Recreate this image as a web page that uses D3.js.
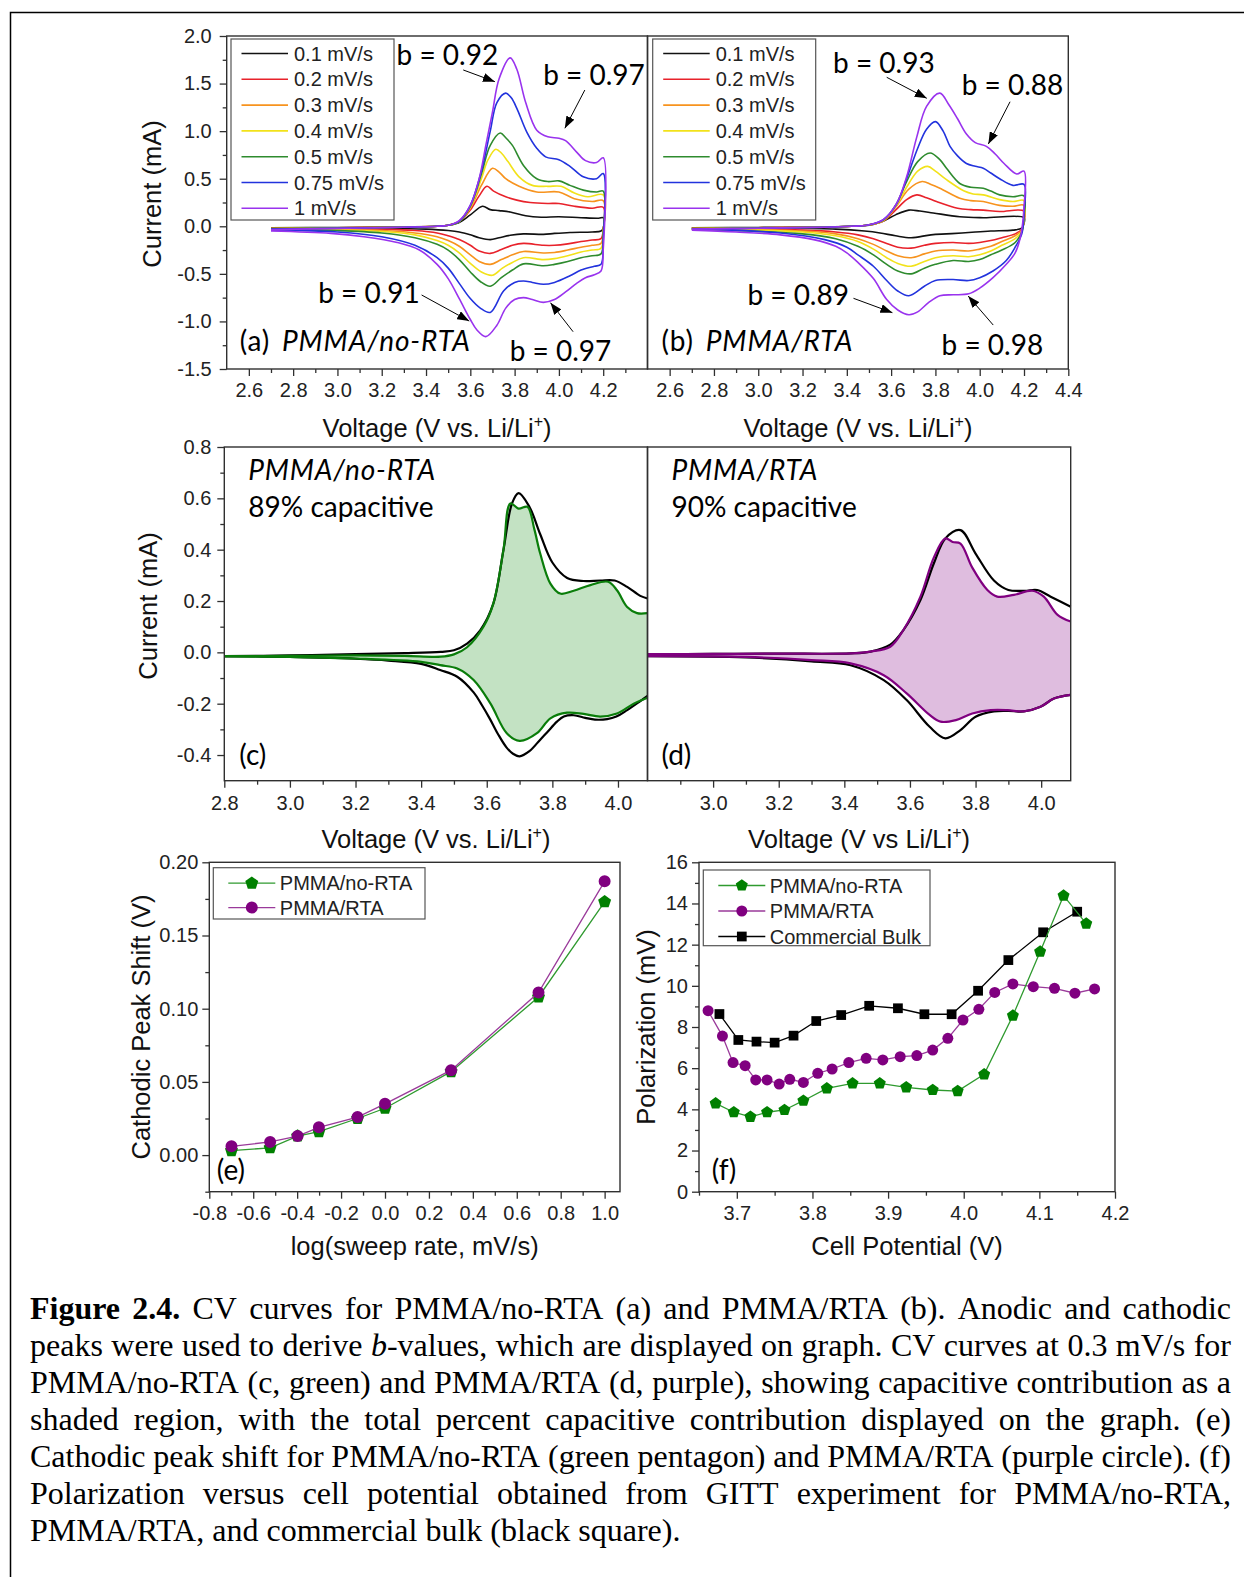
<!DOCTYPE html>
<html><head><meta charset="utf-8">
<script src="https://cdn.jsdelivr.net/npm/d3@7"></script>
<style>
html,body{margin:0;padding:0;background:#fff;}
svg{display:block;}
</style></head><body>
<script>
// ---------------- DATA ----------------
const scanRates = ["0.1 mV/s","0.2 mV/s","0.3 mV/s","0.4 mV/s","0.5 mV/s","0.75 mV/s","1 mV/s"];
const rateColors = ["#111111","#e8222b","#f7931e","#f2e21a","#2e8b2e","#2233dd","#9933ee"];

// Panel (a) PMMA/no-RTA : anodic sweep (V, mA)
const anA_01 = [[2.7,-0.015],[3.0,-0.012],[3.3,-0.006],[3.45,0.0],[3.5,0.01],[3.55,0.04],[3.6,0.12],[3.655,0.21],[3.69,0.175],[3.73,0.165],[3.78,0.15],[3.85,0.11],[3.92,0.095],[4.0,0.10],[4.1,0.09],[4.18,0.085],[4.2,0.09]];
const anA_02 = [[2.7,-0.02],[3.0,-0.015],[3.3,-0.008],[3.45,0.0],[3.5,0.01],[3.55,0.05],[3.6,0.17],[3.64,0.32],[3.675,0.42],[3.705,0.37],[3.76,0.31],[3.81,0.275],[3.87,0.25],[3.95,0.24],[4.0,0.24],[4.07,0.21],[4.15,0.19],[4.2,0.2]];
const anA_03 = [[2.7,-0.02],[3.0,-0.015],[3.3,-0.008],[3.45,0.0],[3.5,0.01],[3.55,0.05],[3.6,0.19],[3.65,0.43],[3.70,0.61],[3.73,0.57],[3.76,0.50],[3.82,0.42],[3.9,0.36],[4.0,0.36],[4.07,0.29],[4.15,0.26],[4.2,0.27]];
const anA_04 = [[2.7,-0.025],[3.0,-0.018],[3.3,-0.01],[3.45,0.0],[3.5,0.01],[3.55,0.05],[3.6,0.2],[3.65,0.5],[3.68,0.7],[3.715,0.81],[3.74,0.77],[3.77,0.68],[3.82,0.52],[3.88,0.43],[3.95,0.42],[4.01,0.42],[4.07,0.35],[4.13,0.31],[4.2,0.33]];
const anA_05 = [[2.7,-0.025],[3.0,-0.018],[3.3,-0.01],[3.45,0.0],[3.5,0.01],[3.55,0.05],[3.6,0.21],[3.65,0.55],[3.69,0.85],[3.735,0.98],[3.76,0.93],[3.79,0.85],[3.84,0.64],[3.9,0.50],[3.95,0.47],[4.0,0.477],[4.05,0.43],[4.11,0.38],[4.17,0.36],[4.2,0.37]];
const anA_075 = [[2.7,-0.03],[3.0,-0.02],[3.3,-0.01],[3.45,0.0],[3.5,0.01],[3.55,0.055],[3.6,0.22],[3.65,0.58],[3.69,1.0],[3.72,1.3],[3.76,1.40],[3.785,1.35],[3.81,1.24],[3.855,0.99],[3.9,0.82],[3.94,0.73],[4.0,0.70],[4.05,0.63],[4.11,0.52],[4.17,0.50],[4.2,0.555]];
const anA_1 = [[2.7,-0.035],[3.0,-0.022],[3.3,-0.01],[3.45,0.0],[3.5,0.01],[3.55,0.06],[3.6,0.22],[3.64,0.5],[3.67,0.85],[3.7,1.2],[3.73,1.55],[3.78,1.77],[3.81,1.65],[3.85,1.3],[3.9,1.01],[3.95,0.94],[4.0,0.925],[4.03,0.9],[4.08,0.78],[4.12,0.69],[4.17,0.67],[4.2,0.72]];
// Panel (a) cathodic sweep
const caA_01 = [[4.2,-0.02],[4.19,-0.05],[4.15,-0.06],[4.05,-0.065],[3.98,-0.075],[3.93,-0.085],[3.84,-0.08],[3.78,-0.095],[3.73,-0.12],[3.69,-0.14],[3.64,-0.12],[3.6,-0.09],[3.55,-0.06],[3.5,-0.045],[3.4,-0.03],[3.2,-0.02],[2.7,-0.015]];
const caA_02 = [[4.2,-0.04],[4.19,-0.13],[4.15,-0.145],[4.1,-0.16],[4.04,-0.185],[3.98,-0.2],[3.93,-0.2],[3.84,-0.18],[3.79,-0.2],[3.74,-0.245],[3.69,-0.285],[3.64,-0.26],[3.6,-0.2],[3.55,-0.14],[3.5,-0.1],[3.45,-0.07],[3.35,-0.045],[3.2,-0.03],[2.7,-0.02]];
const caA_03 = [[4.2,-0.05],[4.19,-0.18],[4.15,-0.2],[4.1,-0.22],[4.04,-0.25],[3.98,-0.275],[3.93,-0.28],[3.84,-0.265],[3.79,-0.3],[3.74,-0.35],[3.69,-0.40],[3.64,-0.37],[3.6,-0.3],[3.55,-0.21],[3.5,-0.15],[3.45,-0.11],[3.35,-0.07],[3.2,-0.045],[3.0,-0.035],[2.7,-0.025]];
const caA_04 = [[4.2,-0.06],[4.19,-0.23],[4.15,-0.25],[4.1,-0.27],[4.04,-0.31],[3.98,-0.34],[3.93,-0.35],[3.84,-0.33],[3.79,-0.38],[3.745,-0.44],[3.7,-0.515],[3.65,-0.48],[3.6,-0.39],[3.55,-0.28],[3.5,-0.2],[3.45,-0.15],[3.35,-0.09],[3.2,-0.055],[3.0,-0.04],[2.7,-0.03]];
const caA_05 = [[4.2,-0.08],[4.19,-0.29],[4.15,-0.31],[4.1,-0.33],[4.04,-0.37],[3.98,-0.4],[3.93,-0.415],[3.84,-0.395],[3.79,-0.46],[3.74,-0.54],[3.69,-0.63],[3.645,-0.58],[3.6,-0.48],[3.55,-0.35],[3.5,-0.25],[3.45,-0.19],[3.35,-0.12],[3.2,-0.07],[3.0,-0.045],[2.7,-0.035]];
const caA_075 = [[4.2,-0.15],[4.19,-0.4],[4.16,-0.42],[4.1,-0.46],[4.05,-0.52],[3.98,-0.59],[3.93,-0.61],[3.88,-0.59],[3.84,-0.575],[3.8,-0.59],[3.75,-0.68],[3.69,-0.905],[3.645,-0.86],[3.6,-0.76],[3.55,-0.6],[3.5,-0.44],[3.45,-0.33],[3.35,-0.2],[3.2,-0.11],[3.0,-0.06],[2.7,-0.04]];
const caA_1 = [[4.2,-0.25],[4.19,-0.47],[4.16,-0.51],[4.12,-0.54],[4.08,-0.6],[4.03,-0.69],[3.98,-0.77],[3.93,-0.8],[3.88,-0.77],[3.84,-0.75],[3.8,-0.77],[3.76,-0.86],[3.72,-1.04],[3.67,-1.16],[3.63,-1.09],[3.6,-0.98],[3.55,-0.76],[3.5,-0.55],[3.45,-0.4],[3.37,-0.25],[3.27,-0.17],[3.12,-0.11],[2.97,-0.075],[2.7,-0.05]];

// Panel (b) PMMA/RTA : anodic sweep
const anB_01 = [[2.7,-0.015],[3.0,-0.012],[3.3,-0.006],[3.42,0.0],[3.5,0.01],[3.56,0.05],[3.62,0.12],[3.68,0.17],[3.73,0.16],[3.79,0.14],[3.91,0.10],[4.016,0.09],[4.2,0.09]];
const anB_02 = [[2.7,-0.02],[3.0,-0.015],[3.3,-0.008],[3.42,0.0],[3.49,0.01],[3.565,0.055],[3.62,0.17],[3.67,0.28],[3.716,0.33],[3.76,0.30],[3.805,0.26],[3.9,0.19],[3.96,0.175],[4.016,0.17],[4.09,0.155],[4.2,0.16]];
const anB_03 = [[2.7,-0.02],[3.0,-0.015],[3.3,-0.008],[3.42,0.0],[3.49,0.01],[3.565,0.06],[3.62,0.2],[3.68,0.39],[3.74,0.47],[3.78,0.44],[3.82,0.40],[3.91,0.295],[3.96,0.27],[4.016,0.26],[4.09,0.22],[4.15,0.21],[4.2,0.22]];
const anB_04 = [[2.7,-0.025],[3.0,-0.018],[3.3,-0.01],[3.42,0.0],[3.49,0.01],[3.565,0.06],[3.62,0.21],[3.68,0.45],[3.72,0.58],[3.765,0.63],[3.8,0.58],[3.85,0.49],[3.93,0.37],[3.97,0.34],[4.016,0.33],[4.09,0.28],[4.15,0.26],[4.2,0.27]];
const anB_05 = [[2.7,-0.025],[3.0,-0.018],[3.3,-0.01],[3.42,0.0],[3.49,0.01],[3.565,0.065],[3.62,0.22],[3.67,0.47],[3.72,0.68],[3.776,0.77],[3.82,0.70],[3.85,0.61],[3.91,0.45],[3.96,0.41],[4.016,0.40],[4.05,0.37],[4.09,0.33],[4.15,0.31],[4.2,0.32]];
const anB_075 = [[2.7,-0.03],[3.0,-0.02],[3.3,-0.01],[3.42,0.0],[3.49,0.01],[3.565,0.07],[3.625,0.235],[3.67,0.5],[3.72,0.82],[3.76,1.02],[3.80,1.10],[3.835,1.0],[3.866,0.84],[3.9,0.74],[3.94,0.66],[3.98,0.63],[4.016,0.61],[4.05,0.56],[4.09,0.50],[4.15,0.43],[4.2,0.44]];
const anB_1 = [[2.7,-0.03],[3.0,-0.02],[3.3,-0.01],[3.42,0.0],[3.49,0.01],[3.565,0.07],[3.625,0.24],[3.67,0.52],[3.716,0.94],[3.76,1.26],[3.82,1.40],[3.86,1.28],[3.9,1.13],[3.94,0.97],[3.98,0.88],[4.03,0.84],[4.07,0.76],[4.11,0.66],[4.167,0.55],[4.2,0.58]];
// Panel (b) cathodic sweep
const caB_01 = [[4.2,0.03],[4.19,-0.02],[4.15,-0.04],[4.05,-0.05],[3.98,-0.06],[3.92,-0.07],[3.85,-0.08],[3.78,-0.09],[3.69,-0.12],[3.62,-0.1],[3.55,-0.07],[3.48,-0.05],[3.35,-0.03],[3.1,-0.02],[2.7,-0.015]];
const caB_02 = [[4.2,0.05],[4.19,-0.03],[4.16,-0.08],[4.1,-0.12],[4.05,-0.15],[4.0,-0.17],[3.95,-0.18],[3.88,-0.17],[3.8,-0.18],[3.75,-0.2],[3.69,-0.23],[3.63,-0.22],[3.58,-0.18],[3.52,-0.13],[3.45,-0.09],[3.35,-0.06],[3.2,-0.04],[2.7,-0.02]];
const caB_03 = [[4.2,0.06],[4.19,-0.04],[4.16,-0.1],[4.1,-0.16],[4.05,-0.21],[4.0,-0.24],[3.95,-0.26],[3.88,-0.25],[3.8,-0.26],[3.75,-0.29],[3.69,-0.33],[3.63,-0.31],[3.58,-0.26],[3.52,-0.19],[3.45,-0.13],[3.35,-0.08],[3.2,-0.05],[2.7,-0.025]];
const caB_04 = [[4.2,0.08],[4.19,-0.05],[4.16,-0.13],[4.1,-0.2],[4.05,-0.26],[4.0,-0.3],[3.95,-0.32],[3.88,-0.31],[3.8,-0.33],[3.75,-0.37],[3.69,-0.42],[3.63,-0.39],[3.58,-0.33],[3.52,-0.24],[3.45,-0.16],[3.35,-0.1],[3.2,-0.06],[2.7,-0.03]];
const caB_05 = [[4.2,0.1],[4.19,-0.06],[4.16,-0.17],[4.1,-0.25],[4.05,-0.3],[4.0,-0.35],[3.95,-0.37],[3.88,-0.36],[3.8,-0.4],[3.75,-0.44],[3.69,-0.5],[3.63,-0.47],[3.58,-0.4],[3.52,-0.3],[3.45,-0.21],[3.35,-0.13],[3.2,-0.08],[2.7,-0.03]];
const caB_075 = [[4.2,0.15],[4.19,-0.08],[4.16,-0.22],[4.12,-0.36],[4.06,-0.47],[4.0,-0.54],[3.95,-0.57],[3.88,-0.56],[3.8,-0.57],[3.75,-0.63],[3.68,-0.73],[3.63,-0.68],[3.58,-0.57],[3.52,-0.42],[3.45,-0.3],[3.4,-0.22],[3.3,-0.14],[3.1,-0.07],[2.7,-0.03]];
const caB_1 = [[4.2,0.2],[4.185,-0.1],[4.16,-0.28],[4.12,-0.4],[4.06,-0.54],[4.0,-0.65],[3.95,-0.71],[3.88,-0.72],[3.82,-0.73],[3.77,-0.8],[3.72,-0.9],[3.68,-0.93],[3.63,-0.88],[3.58,-0.77],[3.52,-0.55],[3.45,-0.38],[3.4,-0.28],[3.35,-0.21],[3.25,-0.14],[3.1,-0.09],[2.9,-0.06],[2.7,-0.04]];

// Panels (c),(d): 0.3 mV/s total current and capacitive part
const totC_an = [[2.8,-0.015],[3.0,-0.012],[3.2,-0.007],[3.35,-0.003],[3.46,0.002],[3.5,0.008],[3.54,0.034],[3.58,0.086],[3.62,0.19],[3.651,0.40],[3.677,0.58],[3.697,0.62],[3.73,0.567],[3.763,0.46],[3.80,0.35],[3.845,0.29],[3.895,0.278],[3.946,0.28],[3.99,0.28],[4.028,0.255],[4.068,0.22],[4.09,0.21]];
const totC_ca = [[4.09,-0.17],[4.068,-0.19],[4.028,-0.225],[3.995,-0.25],[3.967,-0.26],[3.93,-0.262],[3.9,-0.255],[3.865,-0.245],[3.835,-0.25],[3.814,-0.27],[3.785,-0.31],[3.763,-0.34],[3.73,-0.385],[3.70,-0.405],[3.68,-0.395],[3.66,-0.37],[3.635,-0.32],[3.61,-0.26],[3.585,-0.205],[3.56,-0.156],[3.51,-0.095],[3.458,-0.069],[3.4,-0.045],[3.3,-0.032],[3.2,-0.025],[3.0,-0.018],[2.8,-0.015]];
const capC_an = [[2.8,-0.015],[3.0,-0.014],[3.2,-0.012],[3.35,-0.014],[3.46,-0.017],[3.5,-0.008],[3.54,0.02],[3.59,0.10],[3.62,0.19],[3.651,0.40],[3.672,0.58],[3.697,0.56],[3.724,0.567],[3.745,0.48],[3.763,0.385],[3.794,0.268],[3.824,0.229],[3.865,0.24],[3.916,0.262],[3.97,0.275],[3.997,0.242],[4.028,0.177],[4.058,0.153],[4.09,0.153]];
const capC_ca = [[4.09,-0.177],[4.048,-0.2],[3.997,-0.238],[3.946,-0.25],[3.895,-0.24],[3.845,-0.235],[3.794,-0.257],[3.753,-0.315],[3.70,-0.345],[3.661,-0.315],[3.611,-0.199],[3.56,-0.108],[3.51,-0.063],[3.458,-0.05],[3.4,-0.037],[3.2,-0.024],[3.0,-0.018],[2.8,-0.015]];
const totD_an = [[2.8,-0.007],[3.0,-0.006],[3.2,-0.005],[3.42,-0.004],[3.48,0.003],[3.54,0.03],[3.58,0.087],[3.632,0.204],[3.673,0.347],[3.708,0.444],[3.754,0.476],[3.8,0.385],[3.856,0.28],[3.9,0.243],[3.95,0.24],[3.988,0.243],[4.029,0.217],[4.09,0.178]];
const totD_ca = [[4.09,-0.166],[4.039,-0.18],[3.998,-0.212],[3.947,-0.23],[3.9,-0.228],[3.856,-0.23],[3.8,-0.251],[3.754,-0.303],[3.708,-0.335],[3.66,-0.29],[3.59,-0.186],[3.52,-0.108],[3.419,-0.05],[3.3,-0.035],[3.1,-0.02],[2.8,-0.015]];
const capD_an = [[2.8,-0.007],[3.0,-0.006],[3.2,-0.005],[3.42,-0.004],[3.48,0.003],[3.54,0.022],[3.58,0.087],[3.632,0.217],[3.673,0.37],[3.708,0.444],[3.73,0.43],[3.754,0.424],[3.79,0.33],[3.836,0.243],[3.866,0.217],[3.917,0.224],[3.973,0.24],[4.008,0.217],[4.05,0.146],[4.09,0.12]];
const capD_ca = [[4.09,-0.166],[4.039,-0.18],[3.998,-0.212],[3.947,-0.23],[3.897,-0.225],[3.846,-0.225],[3.79,-0.238],[3.74,-0.264],[3.693,-0.27],[3.66,-0.244],[3.59,-0.16],[3.52,-0.089],[3.419,-0.043],[3.3,-0.03],[3.1,-0.018],[2.8,-0.015]];

// Panel (e): cathodic peak shift
const logRate = [-0.699,-0.523,-0.398,-0.301,-0.125,0,0.301,0.699,1.0];
const shiftNoRTA = [0.003,0.005,0.013,0.016,0.025,0.032,0.057,0.108,0.173];
const shiftRTA = [0.006,0.009,0.013,0.019,0.026,0.035,0.058,0.111,0.187];

// Panel (f): GITT polarization
const gittNoRTA_V = [3.672,3.696,3.718,3.740,3.763,3.788,3.819,3.853,3.889,3.924,3.959,3.992,4.027,4.065,4.101,4.132,4.162];
const gittNoRTA_P = [4.29,3.86,3.64,3.86,3.97,4.42,5.02,5.26,5.26,5.07,4.94,4.89,5.70,8.55,11.66,14.38,13.02];
const gittRTA_V = [3.662,3.681,3.695,3.711,3.725,3.740,3.756,3.770,3.788,3.807,3.826,3.848,3.871,3.893,3.916,3.938,3.959,3.979,3.999,4.020,4.041,4.065,4.092,4.120,4.147,4.173];
const gittRTA_P = [8.79,7.56,6.27,6.12,5.43,5.43,5.23,5.46,5.31,5.75,5.96,6.27,6.48,6.40,6.56,6.61,6.88,7.45,8.34,8.86,9.68,10.09,9.96,9.88,9.64,9.85];
const gittBulk_V = [3.677,3.702,3.726,3.750,3.775,3.805,3.838,3.875,3.913,3.948,3.984,4.019,4.059,4.105,4.150];
const gittBulk_P = [8.63,7.37,7.29,7.24,7.58,8.29,8.58,9.03,8.91,8.62,8.62,9.76,11.25,12.60,13.60];

// Tick values
const cvTicksX_a = [2.6,2.8,3.0,3.2,3.4,3.6,3.8,4.0,4.2];
const cvTicksX_b = [2.6,2.8,3.0,3.2,3.4,3.6,3.8,4.0,4.2,4.4];
const cvMinorX = [2.7,2.9,3.1,3.3,3.5,3.7,3.9,4.1,4.3];
const cvTicksY = [-1.5,-1.0,-0.5,0.0,0.5,1.0,1.5,2.0];
const cvMinorY = [-1.25,-0.75,-0.25,0.25,0.75,1.25,1.75];
const capTicksX_c = [2.8,3.0,3.2,3.4,3.6,3.8,4.0];
const capTicksX_d = [3.0,3.2,3.4,3.6,3.8,4.0];
const capMinorX = [2.9,3.1,3.3,3.5,3.7,3.9];
const capTicksY = [-0.4,-0.2,0.0,0.2,0.4,0.6,0.8];
const capMinorY = [-0.3,-0.1,0.1,0.3,0.5,0.7];
const shiftTicksX = [-0.8,-0.6,-0.4,-0.2,0.0,0.2,0.4,0.6,0.8,1.0];
const shiftMinorX = [-0.7,-0.5,-0.3,-0.1,0.1,0.3,0.5,0.7,0.9];
const shiftTicksY = [0.00,0.05,0.10,0.15,0.20];
const shiftMinorY = [-0.025,0.025,0.075,0.125,0.175];
const gittTicksX = [3.7,3.8,3.9,4.0,4.1,4.2];
const gittMinorX = [3.65,3.75,3.85,3.95,4.05,4.15];
const gittTicksY = [0,2,4,6,8,10,12,14,16];
const gittMinorY = [1,3,5,7,9,11,13,15];

const bValuesA = ["b = 0.92","b = 0.97","b = 0.91","b = 0.97"];
const bValuesB = ["b = 0.93","b = 0.88","b = 0.89","b = 0.98"];

const captionLines = [
 "**Figure 2.4.** CV curves for PMMA/no-RTA (a) and PMMA/RTA (b). Anodic and cathodic",
 "peaks were used to derive _b_-values, which are displayed on graph. CV curves at 0.3 mV/s for",
 "PMMA/no-RTA (c, green) and PMMA/RTA (d, purple), showing capacitive contribution as a",
 "shaded region, with the total percent capacitive contribution displayed on the graph. (e)",
 "Cathodic peak shift for PMMA/no-RTA (green pentagon) and PMMA/RTA (purple circle). (f)",
 "Polarization versus cell potential obtained from GITT experiment for PMMA/no-RTA,",
 "PMMA/RTA, and commercial bulk (black square)."
];

// ---------------- DRAW ----------------
const SANS = '"Liberation Sans", Arial, sans-serif';
const CAL = 'Lato, "Open Sans", sans-serif';
const SERIF = '"Liberation Serif", "Times New Roman", serif';
const AX = "#303030";
const TITLE_FS = 25.5;
const W = 1244, H = 1577;

const svg = d3.select("body").append("svg").attr("width", W).attr("height", H);
svg.append("rect").attr("width", W).attr("height", H).attr("fill", "#fff");
svg.append("path").attr("d", "M10.5,1577V12.5H1244").attr("fill", "none").attr("stroke", "#000").attr("stroke-width", 1.5);

const defs = svg.append("defs");
defs.append("marker").attr("id", "arr").attr("viewBox", "0 0 12 9").attr("refX", 12).attr("refY", 4.5)
  .attr("markerWidth", 12).attr("markerHeight", 9).attr("markerUnits", "userSpaceOnUse").attr("orient", "auto")
  .append("path").attr("d", "M0,0L12,4.5L0,9Z").attr("fill", "#000");

const PA = {x0: 226.7, x1: 647.5, y0: 36, y1: 369};
const PB = {x0: 647.5, x1: 1068.3, y0: 36, y1: 369};
const PC = {x0: 224.3, x1: 647.5, y0: 447, y1: 780.7};
const PD = {x0: 647.5, x1: 1070.7, y0: 447, y1: 780.7};
const PE = {x0: 209.3, x1: 620, y0: 862.3, y1: 1191.7};
const PF = {x0: 699, x1: 1115, y0: 862.3, y1: 1191.7};

const xA = d3.scaleLinear([2.5, 4.4], [PA.x0, PA.x1]);
const yA = d3.scaleLinear([-1.5, 2.0], [PA.y1, PA.y0]);
const xB = d3.scaleLinear([2.5, 4.4], [PB.x0, PB.x1]);
const yB = d3.scaleLinear([-1.5, 2.0], [PB.y1, PB.y0]);
const xC = d3.scaleLinear([2.8, 4.09], [PC.x0, PC.x1]);
const yC = d3.scaleLinear([-0.5, 0.8], [PC.y1, PC.y0]);
const xD = d3.scaleLinear([2.8, 4.09], [PD.x0, PD.x1]);
const yD = d3.scaleLinear([-0.5, 0.8], [PD.y1, PD.y0]);
const xE = d3.scaleLinear([-0.8, 1.07], [PE.x0, PE.x1]);
const yE = d3.scaleLinear([-0.025, 0.2], [PE.y1, PE.y0]);
const xF = d3.scaleLinear([3.65, 4.2], [PF.x0, PF.x1]);
const yF = d3.scaleLinear([0, 16], [PF.y1, PF.y0]);

function styleAxis(g, fs) {
  g.select(".domain").remove();
  g.selectAll("line").attr("stroke", AX).attr("stroke-width", 1.3);
  g.attr("font-family", SANS).attr("font-size", fs || 20);
  g.selectAll("text").attr("fill", "#222");
}
function xAxis(P, x, major, minor, fmt, pad) {
  const g1 = svg.append("g").attr("transform", `translate(0,${P.y1})`)
    .call(d3.axisBottom(x).tickValues(minor).tickSize(4).tickFormat(""));
  styleAxis(g1);
  const g2 = svg.append("g").attr("transform", `translate(0,${P.y1})`)
    .call(d3.axisBottom(x).tickValues(major).tickSize(7).tickPadding(pad || 7).tickFormat(fmt));
  styleAxis(g2);
}
function yAxis(P, y, major, minor, fmt, pad) {
  const g1 = svg.append("g").attr("transform", `translate(${P.x0},0)`)
    .call(d3.axisLeft(y).tickValues(minor).tickSize(4).tickFormat(""));
  styleAxis(g1);
  const g2 = svg.append("g").attr("transform", `translate(${P.x0},0)`)
    .call(d3.axisLeft(y).tickValues(major).tickSize(7).tickPadding(pad || 6).tickFormat(fmt));
  styleAxis(g2);
}
function frame(P) {
  svg.append("rect").attr("x", P.x0).attr("y", P.y0).attr("width", P.x1 - P.x0).attr("height", P.y1 - P.y0)
    .attr("fill", "none").attr("stroke", AX).attr("stroke-width", 1.4);
}
function txt(x, y, s, o) {
  o = o || {};
  return svg.append("text").attr("x", x).attr("y", y).attr("font-family", o.font || SANS)
    .attr("font-size", o.size || TITLE_FS).attr("fill", o.fill || "#111").attr("text-anchor", o.anchor || "start")
    .attr("font-style", o.italic ? "italic" : null).attr("letter-spacing", o.ls || null).text(s);
}
function yTitle(x, y, s) {
  svg.append("text").attr("transform", `translate(${x},${y}) rotate(-90)`).attr("text-anchor", "middle")
    .attr("font-family", SANS).attr("font-size", TITLE_FS).attr("fill", "#111").text(s);
}
function voltTitle(x, y, s) {
  const t = svg.append("text").attr("x", x).attr("y", y).attr("text-anchor", "middle")
    .attr("font-family", SANS).attr("font-size", TITLE_FS).attr("fill", "#111");
  t.append("tspan").text(s);
  t.append("tspan").attr("dy", -10).attr("font-size", 16).text("+");
  t.append("tspan").attr("dy", 10).text(")");
}

const cvLine = (x, y) => d3.line().x(d => x(d[0])).y(d => y(d[1])).curve(d3.curveCatmullRom.alpha(0.5));

// ---- Panel (a) and (b) ----
const cvA = [[anA_01, caA_01], [anA_02, caA_02], [anA_03, caA_03], [anA_04, caA_04], [anA_05, caA_05], [anA_075, caA_075], [anA_1, caA_1]];
const cvB = [[anB_01, caB_01], [anB_02, caB_02], [anB_03, caB_03], [anB_04, caB_04], [anB_05, caB_05], [anB_075, caB_075], [anB_1, caB_1]];

function cvPanel(P, x, y, curves, legendX) {
  const lg = cvLine(x, y);
  curves.forEach((c, i) => {
    svg.append("path").attr("d", lg(c[0].concat(c[1]))).attr("fill", "none")
      .attr("stroke", rateColors[i]).attr("stroke-width", 1.6).attr("stroke-linejoin", "round");
  });
  const lgx = legendX, lgy = P.y0 + 3;
  svg.append("rect").attr("x", lgx).attr("y", lgy).attr("width", 163).attr("height", 181)
    .attr("fill", "#fff").attr("stroke", "#555").attr("stroke-width", 1.2);
  scanRates.forEach((r, i) => {
    const yy = lgy + 14.5 + i * 25.8;
    svg.append("line").attr("x1", lgx + 10.5).attr("x2", lgx + 57).attr("y1", yy).attr("y2", yy)
      .attr("stroke", rateColors[i]).attr("stroke-width", 1.6);
    svg.append("text").attr("x", lgx + 63).attr("y", yy).attr("dy", "0.35em").attr("font-family", SANS)
      .attr("font-size", 20).attr("fill", "#222").text(r);
  });
}
frame(PA); frame(PB);
cvPanel(PA, xA, yA, cvA, 231);
cvPanel(PB, xB, yB, cvB, 652.7);
xAxis(PA, xA, cvTicksX_a, cvMinorX, d => d.toFixed(1), 7);
xAxis(PB, xB, cvTicksX_b, cvMinorX, d => d.toFixed(1), 7);
yAxis(PA, yA, cvTicksY, cvMinorY, d => d.toFixed(1), 8);
yTitle(161, 194, "Current (mA)");
voltTitle((PA.x0 + PA.x1) / 2, 437, "Voltage (V vs. Li/Li");
voltTitle((PB.x0 + PB.x1) / 2, 437, "Voltage (V vs. Li/Li");

// b-value annotations: [label, textV, textI, fromV, fromI, tipV, tipI]
const annA = [
  [bValuesA[0], 3.267, 1.695, 3.568, 1.643, 3.711, 1.52],
  [bValuesA[1], 3.929, 1.485, 4.117, 1.432, 4.027, 1.03],
  [bValuesA[2], 2.913, -0.806, 3.38, -0.722, 3.595, -0.996],
  [bValuesA[3], 3.778, -1.416, 4.064, -1.108, 3.962, -0.803]
];
const annB = [
  [bValuesB[0], 3.338, 1.611, 3.58, 1.566, 3.761, 1.345],
  [bValuesB[1], 3.919, 1.38, 4.137, 1.309, 4.039, 0.865],
  [bValuesB[2], 2.951, -0.827, 3.43, -0.757, 3.606, -0.908],
  [bValuesB[3], 3.828, -1.353, 4.061, -1.038, 3.948, -0.733]
];
function annotate(x, y, arr) {
  arr.forEach(a => {
    txt(x(a[1]), y(a[2]), a[0], {font: CAL, size: 28, fill: "#000"});
    svg.append("line").attr("x1", x(a[3])).attr("y1", y(a[4])).attr("x2", x(a[5])).attr("y2", y(a[6]))
      .attr("stroke", "#000").attr("stroke-width", 1).attr("marker-end", "url(#arr)");
  });
}
annotate(xA, yA, annA);
annotate(xB, yB, annB);
function panelLabel(x, y, pre, ital) {
  const t = svg.append("text").attr("x", x).attr("y", y).attr("font-family", CAL).attr("font-size", 28).attr("fill", "#000");
  t.append("tspan").attr("letter-spacing", 0.8).text(pre + " ");
  t.append("tspan").attr("dx", 4).attr("font-style", "italic").attr("letter-spacing", 0.9).text(ital);
}
panelLabel(PA.x0 + 13, 351, "(a)", "PMMA/no-RTA");
panelLabel(PB.x0 + 14, 351, "(b)", "PMMA/RTA");

// ---- Panels (c) and (d) ----
function capPanel(P, x, y, totAn, totCa, capAn, capCa, col, fillCol) {
  const lg = cvLine(x, y);
  const area = lg(capAn) + lg(capCa).replace(/^M/, "L") + "Z";
  svg.append("path").attr("d", area).attr("fill", fillCol).attr("stroke", "none");
  [totAn, totCa].forEach(d => svg.append("path").attr("d", lg(d)).attr("fill", "none").attr("stroke", "#000").attr("stroke-width", 2.2));
  [capAn, capCa].forEach(d => svg.append("path").attr("d", lg(d)).attr("fill", "none").attr("stroke", col).attr("stroke-width", 2.2));
}
capPanel(PC, xC, yC, totC_an, totC_ca, capC_an, capC_ca, "#0a7d0a", "#c3e2c3");
capPanel(PD, xD, yD, totD_an, totD_ca, capD_an, capD_ca, "#800080", "#dfbddf");
frame(PC); frame(PD);
xAxis(PC, xC, capTicksX_c, capMinorX, d => d.toFixed(1), 8);
xAxis(PD, xD, capTicksX_d, capMinorX, d => d.toFixed(1), 8);
yAxis(PC, yC, capTicksY, capMinorY, d => d.toFixed(1), 6);
yTitle(157, 606, "Current (mA)");
voltTitle((PC.x0 + PC.x1) / 2, 848, "Voltage (V vs. Li/Li");
voltTitle((PD.x0 + PD.x1) / 2, 848, "Voltage (V vs Li/Li");
txt(PC.x0 + 24, 480, "PMMA/no-RTA", {font: CAL, size: 28, italic: true, fill: "#000", ls: 0.8});
txt(PC.x0 + 24, 517, "89% capacitive", {font: CAL, size: 28, fill: "#000"});
txt(PC.x0 + 15, 765, "(c)", {font: CAL, size: 28, fill: "#000"});
txt(PD.x0 + 24, 480, "PMMA/RTA", {font: CAL, size: 28, italic: true, fill: "#000", ls: 0.8});
txt(PD.x0 + 24, 517, "90% capacitive", {font: CAL, size: 28, fill: "#000"});
txt(PD.x0 + 14, 765, "(d)", {font: CAL, size: 28, fill: "#000"});

// ---- symbols ----
const symPentagon = {
  draw(ctx, size) {
    const r = Math.sqrt(size / (2.5 * Math.sin(2 * Math.PI / 5)));
    for (let i = 0; i < 5; i++) {
      const a = -Math.PI / 2 + i * 2 * Math.PI / 5;
      if (i === 0) ctx.moveTo(r * Math.cos(a), r * Math.sin(a)); else ctx.lineTo(r * Math.cos(a), r * Math.sin(a));
    }
    ctx.closePath();
  }
};
function series(x, y, xs, ys, color, lineColor, sym, size) {
  const pts = xs.map((v, i) => [v, ys[i]]);
  svg.append("path").attr("d", d3.line().x(d => x(d[0])).y(d => y(d[1]))(pts))
    .attr("fill", "none").attr("stroke", lineColor).attr("stroke-width", 1.3);
  svg.append("g").selectAll("path").data(pts).join("path")
    .attr("transform", d => `translate(${x(d[0])},${y(d[1])})`)
    .attr("d", d3.symbol().type(sym).size(size)).attr("fill", color);
}
function legendBox(x0, y0, w, h, items) {
  svg.append("rect").attr("x", x0).attr("y", y0).attr("width", w).attr("height", h)
    .attr("fill", "#fff").attr("stroke", "#555").attr("stroke-width", 1.2);
  items.forEach((it, i) => {
    const yy = y0 + 15.5 + i * it.dy;
    svg.append("line").attr("x1", x0 + 15).attr("x2", x0 + 62).attr("y1", yy).attr("y2", yy)
      .attr("stroke", it.line).attr("stroke-width", 1.3);
    svg.append("path").attr("transform", `translate(${x0 + 38.5},${yy})`)
      .attr("d", d3.symbol().type(it.sym).size(it.size)).attr("fill", it.color);
    svg.append("text").attr("x", x0 + 66.5).attr("y", yy).attr("dy", "0.35em").attr("font-family", SANS)
      .attr("font-size", 20).attr("fill", "#222").text(it.label);
  });
}

// ---- Panel (e) ----
frame(PE);
series(xE, yE, logRate, shiftNoRTA, "#008000", "#2f9a2f", symPentagon, 110);
series(xE, yE, logRate, shiftRTA, "#800080", "#9a3a9a", d3.symbolCircle, 113);
xAxis(PE, xE, shiftTicksX, shiftMinorX, d => d.toFixed(1), 7);
yAxis(PE, yE, shiftTicksY, shiftMinorY, d => d.toFixed(2), 4);
yTitle(150, 1027, "Cathodic Peak Shift (V)");
txt((PE.x0 + PE.x1) / 2, 1255, "log(sweep rate, mV/s)", {anchor: "middle"});
txt(PE.x0 + 7.5, 1180, "(e)", {font: CAL, size: 28, fill: "#000"});
legendBox(213.3, 867.7, 211.7, 51.3, [
  {label: "PMMA/no-RTA", color: "#008000", line: "#2f9a2f", sym: symPentagon, size: 110, dy: 24.4},
  {label: "PMMA/RTA", color: "#800080", line: "#9a3a9a", sym: d3.symbolCircle, size: 113, dy: 24.4}
]);

// ---- Panel (f) ----
frame(PF);
series(xF, yF, gittBulk_V, gittBulk_P, "#000", "#000", d3.symbolSquare, 95);
series(xF, yF, gittRTA_V, gittRTA_P, "#800080", "#9a3a9a", d3.symbolCircle, 95);
series(xF, yF, gittNoRTA_V, gittNoRTA_P, "#008000", "#2f9a2f", symPentagon, 95);
xAxis(PF, xF, gittTicksX, gittMinorX, d => d.toFixed(1), 7);
yAxis(PF, yF, gittTicksY, gittMinorY, d => String(d), 4);
yTitle(655, 1027, "Polarization (mV)");
txt((PF.x0 + PF.x1) / 2, 1255, "Cell Potential (V)", {anchor: "middle"});
txt(PF.x0 + 12.7, 1180, "(f)", {font: CAL, size: 28, fill: "#000"});
legendBox(703.3, 870, 226.7, 75.7, [
  {label: "PMMA/no-RTA", color: "#008000", line: "#2f9a2f", sym: symPentagon, size: 95, dy: 25.5},
  {label: "PMMA/RTA", color: "#800080", line: "#9a3a9a", sym: d3.symbolCircle, size: 95, dy: 25.5},
  {label: "Commercial Bulk", color: "#000", line: "#000", sym: d3.symbolSquare, size: 95, dy: 25.5}
]);

// ---- Caption (justified lines) ----
const capX = 30, capW = 1201, capY0 = 1318.5, capDY = 37, capFS = 32;
captionLines.forEach((line, li) => {
  const words = line.split(" ");
  let bold = false, ital = false;
  const nodes = words.map(w => {
    const t = svg.append("text").attr("y", capY0 + li * capDY).attr("font-family", SERIF)
      .attr("font-size", capFS).attr("fill", "#000");
    w.split(/(\*\*|_)/).forEach(p => {
      if (p === "**") { bold = !bold; return; }
      if (p === "_") { ital = !ital; return; }
      if (!p) return;
      t.append("tspan").attr("font-weight", bold ? "bold" : null).attr("font-style", ital ? "italic" : null).text(p);
    });
    return t;
  });
  const widths = nodes.map(n => n.node().getComputedTextLength());
  const total = d3.sum(widths);
  const last = li === captionLines.length - 1;
  const gap = last ? capFS * 0.25 : (capW - total) / (words.length - 1);
  let xx = capX;
  nodes.forEach((n, i) => { n.attr("x", xx); xx += widths[i] + gap; });
});
</script>
</body></html>
